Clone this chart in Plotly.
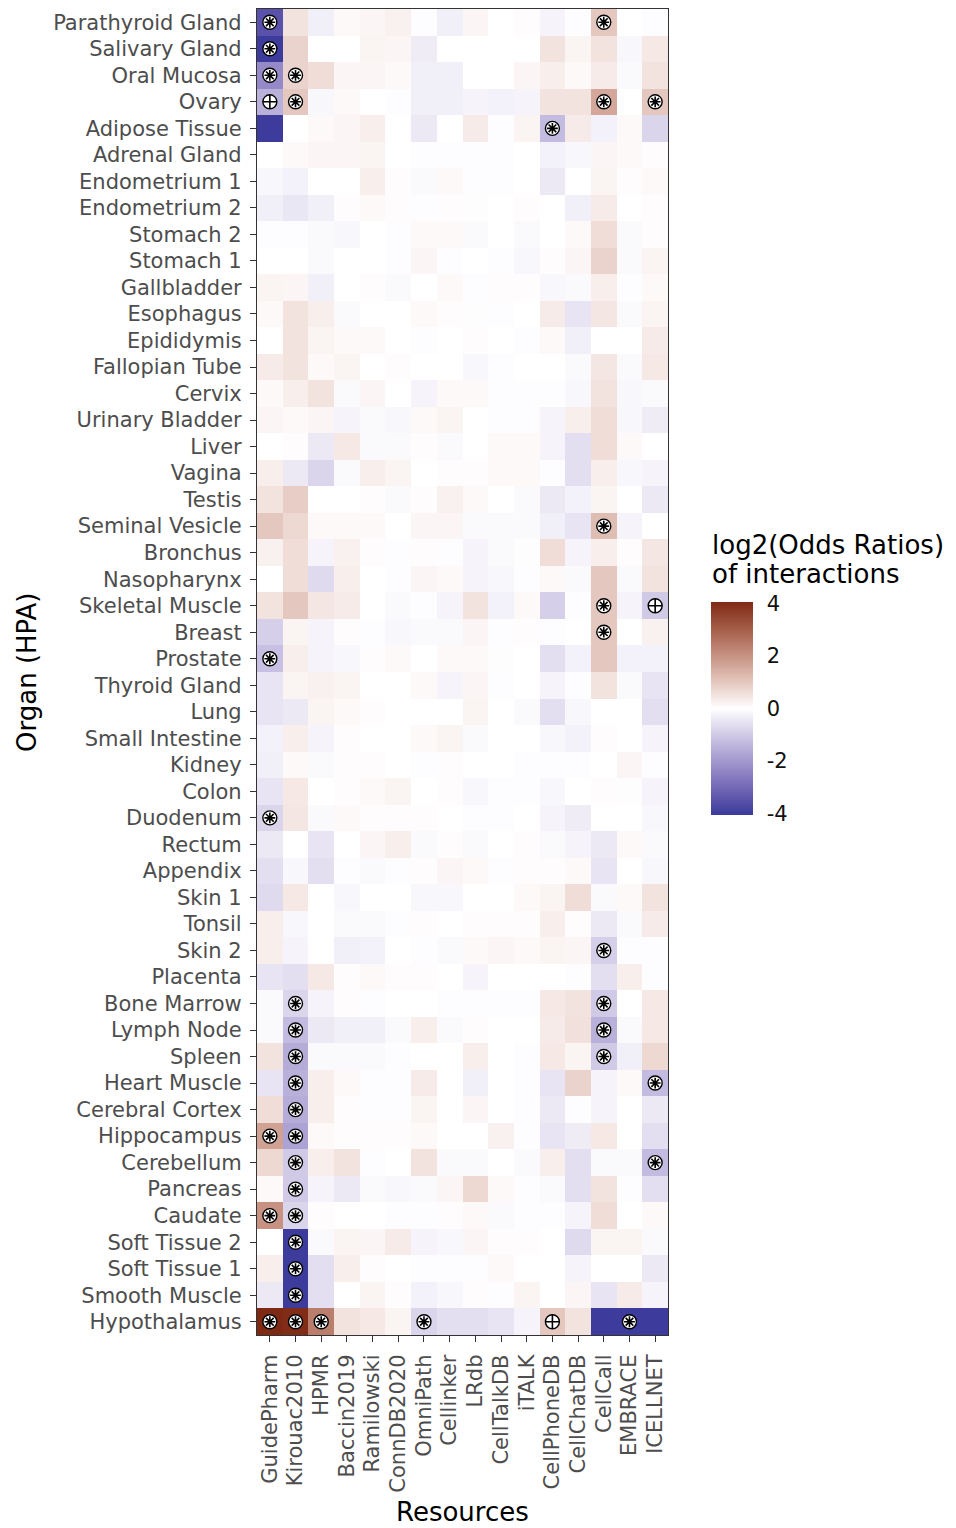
import plotly.graph_objects as go

resources = ["GuidePharm", "Kirouac2010", "HPMR", "Baccin2019", "Ramilowski", "ConnDB2020",
             "OmniPath", "Cellinker", "LRdb", "CellTalkDB", "iTALK", "CellPhoneDB",
             "CellChatDB", "CellCall", "EMBRACE", "ICELLNET"]

organs = ["Parathyroid Gland", "Salivary Gland", "Oral Mucosa", "Ovary", "Adipose Tissue",
          "Adrenal Gland", "Endometrium 1", "Endometrium 2", "Stomach 2", "Stomach 1",
          "Gallbladder", "Esophagus", "Epididymis", "Fallopian Tube", "Cervix",
          "Urinary Bladder", "Liver", "Vagina", "Testis", "Seminal Vesicle", "Bronchus",
          "Nasopharynx", "Skeletal Muscle", "Breast", "Prostate", "Thyroid Gland", "Lung",
          "Small Intestine", "Kidney", "Colon", "Duodenum", "Rectum", "Appendix", "Skin 1",
          "Tonsil", "Skin 2", "Placenta", "Bone Marrow", "Lymph Node", "Spleen",
          "Heart Muscle", "Cerebral Cortex", "Hippocampus", "Cerebellum", "Pancreas",
          "Caudate", "Soft Tissue 2", "Soft Tissue 1", "Smooth Muscle", "Hypothalamus"]

log2_odds = [
    [-3.5, 0.5, -0.3, 0.1, 0.15, 0.25, -0.05, -0.3, 0.15, 0.0, 0.05, -0.2, -0.05, 1.0, 0.0, -0.05],
    [-4.0, 0.8, 0.0, 0.0, 0.2, 0.15, -0.35, 0.0, 0.0, 0.0, 0.0, 0.5, 0.2, 0.5, -0.15, 0.4],
    [-2.3, 0.8, 0.6, 0.15, 0.15, 0.1, -0.3, -0.3, 0.0, 0.0, 0.15, 0.3, 0.1, 0.35, -0.1, 0.5],
    [-1.5, 1.0, -0.15, 0.1, 0.0, -0.05, -0.3, -0.3, -0.2, -0.25, -0.2, 0.5, 0.5, 1.6, 0.0, 1.0],
    [-4.0, 0.0, 0.1, 0.15, 0.3, 0.0, -0.4, 0.0, 0.35, -0.05, 0.2, -1.3, 0.35, -0.25, 0.1, -0.8],
    [0.0, 0.1, 0.15, 0.15, 0.2, 0.0, -0.05, -0.05, -0.05, -0.05, 0.0, -0.25, -0.15, 0.15, 0.1, 0.05],
    [-0.15, -0.25, 0.0, 0.0, 0.3, 0.05, -0.1, 0.1, -0.05, -0.05, 0.0, -0.4, 0.0, 0.2, 0.05, 0.1],
    [-0.3, -0.45, -0.3, 0.05, 0.1, 0.05, -0.05, 0.05, -0.03, 0.0, 0.05, 0.0, -0.3, 0.35, 0.0, 0.05],
    [-0.05, -0.05, -0.1, -0.15, 0.0, -0.05, 0.1, 0.1, -0.1, 0.0, -0.1, 0.0, 0.1, 0.6, -0.1, 0.05],
    [0.0, 0.0, -0.1, 0.0, 0.0, -0.05, 0.15, -0.05, 0.0, -0.05, -0.15, 0.05, 0.15, 0.8, -0.1, 0.2],
    [0.2, 0.15, -0.3, 0.0, 0.05, -0.1, 0.0, 0.1, -0.05, 0.05, 0.05, -0.15, -0.1, 0.3, -0.05, 0.1],
    [0.1, 0.5, 0.3, -0.1, 0.0, 0.0, 0.1, 0.05, 0.03, -0.05, 0.0, 0.35, -0.5, 0.45, -0.1, 0.2],
    [0.0, 0.5, 0.2, 0.1, 0.1, 0.0, -0.05, 0.0, 0.05, 0.0, -0.05, 0.1, -0.3, 0.0, 0.0, 0.35],
    [0.35, 0.5, 0.1, 0.2, 0.0, 0.05, 0.0, 0.0, -0.15, -0.05, 0.0, 0.0, -0.1, 0.45, -0.1, 0.4],
    [0.1, 0.3, 0.5, -0.1, 0.15, 0.0, -0.2, 0.1, 0.1, -0.05, -0.05, -0.05, -0.15, 0.5, -0.15, -0.1],
    [0.15, 0.1, 0.15, -0.2, -0.1, -0.15, 0.1, 0.2, 0.0, -0.05, -0.05, -0.2, 0.3, 0.6, -0.15, -0.35],
    [0.0, 0.05, -0.4, 0.4, -0.1, -0.1, 0.05, -0.1, 0.0, 0.1, 0.1, -0.2, -0.6, 0.6, 0.1, 0.0],
    [0.3, -0.4, -0.8, -0.1, 0.3, 0.2, 0.0, 0.05, 0.05, 0.1, 0.1, -0.05, -0.6, 0.3, -0.15, -0.2],
    [0.5, 0.9, 0.0, 0.0, 0.05, -0.1, 0.05, 0.25, 0.1, 0.0, -0.1, -0.4, -0.25, 0.2, 0.0, -0.4],
    [1.0, 0.7, 0.1, 0.1, 0.1, 0.0, 0.15, 0.15, -0.1, -0.1, -0.1, -0.3, -0.5, 1.2, -0.2, 0.0],
    [0.25, 0.6, -0.2, 0.25, 0.05, -0.05, 0.05, -0.05, -0.2, -0.1, 0.03, 0.6, -0.2, 0.3, 0.05, 0.45],
    [0.0, 0.6, -0.7, 0.3, 0.0, -0.05, 0.15, 0.1, -0.2, -0.15, -0.05, 0.1, -0.1, 1.0, -0.1, 0.5],
    [0.5, 1.0, 0.45, 0.35, 0.0, -0.1, -0.05, -0.2, 0.5, -0.25, 0.1, -0.9, -0.05, 1.0, -0.2, -1.0],
    [-0.9, 0.2, -0.2, 0.05, -0.05, -0.15, -0.1, -0.1, 0.15, -0.05, 0.05, -0.05, 0.0, 1.0, 0.0, 0.25],
    [-1.2, 0.3, -0.2, -0.15, 0.05, 0.1, 0.0, 0.1, 0.1, 0.03, 0.0, -0.6, -0.25, 1.0, -0.25, -0.25],
    [-0.5, 0.2, 0.25, 0.2, 0.0, 0.0, 0.1, -0.2, 0.15, -0.05, 0.0, -0.2, -0.05, 0.5, -0.1, -0.5],
    [-0.5, -0.4, 0.2, 0.1, 0.05, 0.0, 0.0, 0.0, 0.2, 0.0, -0.1, -0.6, -0.15, 0.0, 0.0, -0.6],
    [-0.25, 0.3, -0.2, 0.05, 0.0, 0.0, 0.1, 0.2, -0.1, 0.0, 0.0, -0.15, -0.25, 0.05, 0.0, -0.2],
    [-0.3, 0.1, -0.1, 0.05, 0.05, 0.0, -0.05, 0.05, 0.0, 0.0, -0.05, -0.05, -0.05, 0.0, 0.15, -0.05],
    [-0.5, 0.4, 0.0, 0.05, 0.1, 0.2, 0.0, 0.05, -0.15, -0.05, -0.05, -0.15, 0.0, 0.05, 0.03, -0.2],
    [-0.8, 0.45, -0.1, 0.1, 0.05, 0.05, 0.05, 0.0, -0.05, -0.05, 0.0, -0.2, -0.35, 0.0, 0.0, -0.15],
    [-0.4, 0.0, -0.5, 0.0, 0.15, 0.3, -0.1, 0.05, -0.1, 0.0, 0.05, -0.1, -0.2, -0.4, 0.1, -0.1],
    [-0.6, -0.15, -0.6, -0.05, -0.1, -0.05, 0.05, 0.15, 0.1, -0.05, 0.05, 0.05, 0.1, -0.5, 0.0, -0.15],
    [-0.7, 0.4, 0.0, -0.15, 0.0, 0.0, -0.15, -0.15, 0.0, 0.0, 0.1, 0.2, 0.6, -0.1, 0.1, 0.5],
    [0.3, -0.15, 0.0, -0.1, -0.1, -0.05, 0.05, 0.0, 0.05, 0.05, 0.05, 0.3, 0.05, -0.4, -0.1, 0.35],
    [0.3, -0.2, 0.0, -0.3, -0.25, 0.0, -0.05, -0.1, 0.1, 0.15, 0.1, 0.2, 0.15, -0.9, -0.05, -0.05],
    [-0.5, -0.6, 0.4, 0.05, 0.1, 0.05, 0.05, 0.0, -0.2, 0.0, 0.0, 0.0, -0.05, -0.6, 0.3, -0.05],
    [-0.1, -0.8, -0.2, 0.05, -0.05, 0.0, 0.0, -0.05, -0.05, -0.05, -0.05, 0.4, 0.5, -1.0, 0.0, 0.4],
    [-0.1, -1.3, -0.4, -0.3, -0.3, -0.1, 0.3, -0.1, 0.05, 0.0, 0.0, 0.35, 0.55, -1.5, -0.1, 0.4],
    [0.5, -1.6, -0.1, -0.1, -0.1, -0.05, 0.0, 0.0, 0.3, 0.0, -0.05, 0.4, 0.2, -1.0, -0.3, 0.7],
    [-0.5, -1.5, 0.3, 0.1, -0.05, -0.05, 0.35, 0.0, -0.3, 0.0, -0.05, -0.5, 0.8, -0.2, 0.1, -1.3],
    [0.6, -1.6, 0.3, 0.05, -0.05, -0.05, 0.2, 0.0, 0.15, 0.0, -0.05, -0.4, -0.05, -0.2, 0.0, -0.4],
    [1.7, -1.8, 0.1, 0.05, 0.05, 0.05, 0.1, 0.0, 0.0, 0.25, -0.05, -0.5, -0.35, 0.4, 0.0, -0.6],
    [0.7, -1.0, 0.3, 0.5, -0.05, 0.0, 0.5, -0.1, -0.1, 0.0, -0.1, 0.3, -0.6, -0.1, -0.1, -1.3],
    [0.1, -1.0, -0.2, -0.4, -0.1, -0.15, -0.1, 0.15, 0.7, 0.1, -0.05, -0.1, -0.6, 0.5, -0.05, -0.6],
    [2.0, -0.8, 0.05, 0.0, 0.0, -0.05, -0.05, 0.05, 0.1, -0.1, -0.05, -0.05, -0.2, 0.6, 0.0, 0.1],
    [0.0, -4.0, -0.1, 0.2, 0.15, 0.35, -0.2, -0.15, 0.15, 0.05, 0.05, 0.0, -0.7, 0.2, 0.2, -0.1],
    [0.3, -4.0, -0.6, 0.3, 0.05, 0.0, -0.05, -0.05, -0.05, 0.1, 0.0, 0.0, -0.2, 0.0, 0.0, -0.4],
    [-0.4, -4.0, -0.6, 0.0, 0.2, 0.05, -0.25, -0.15, 0.05, -0.05, 0.2, 0.0, 0.15, -0.5, 0.35, -0.2],
    [4.2, 4.0, 2.4, 0.5, 0.4, 0.2, -0.8, -0.6, -0.6, -0.5, -0.2, 1.0, 0.5, -4.0, -4.0, -4.0],
]

star_cells = [
    ("Parathyroid Gland", "GuidePharm"), ("Parathyroid Gland", "CellCall"),
    ("Salivary Gland", "GuidePharm"),
    ("Oral Mucosa", "GuidePharm"), ("Oral Mucosa", "Kirouac2010"),
    ("Ovary", "Kirouac2010"), ("Ovary", "CellCall"), ("Ovary", "ICELLNET"),
    ("Adipose Tissue", "CellPhoneDB"),
    ("Seminal Vesicle", "CellCall"),
    ("Skeletal Muscle", "CellCall"),
    ("Breast", "CellCall"),
    ("Prostate", "GuidePharm"),
    ("Duodenum", "GuidePharm"),
    ("Skin 2", "CellCall"),
    ("Bone Marrow", "Kirouac2010"), ("Bone Marrow", "CellCall"),
    ("Lymph Node", "Kirouac2010"), ("Lymph Node", "CellCall"),
    ("Spleen", "Kirouac2010"), ("Spleen", "CellCall"),
    ("Heart Muscle", "Kirouac2010"), ("Heart Muscle", "ICELLNET"),
    ("Cerebral Cortex", "Kirouac2010"),
    ("Hippocampus", "GuidePharm"), ("Hippocampus", "Kirouac2010"),
    ("Cerebellum", "Kirouac2010"), ("Cerebellum", "ICELLNET"),
    ("Pancreas", "Kirouac2010"),
    ("Caudate", "GuidePharm"), ("Caudate", "Kirouac2010"),
    ("Soft Tissue 2", "Kirouac2010"),
    ("Soft Tissue 1", "Kirouac2010"),
    ("Smooth Muscle", "Kirouac2010"),
    ("Hypothalamus", "GuidePharm"), ("Hypothalamus", "Kirouac2010"),
    ("Hypothalamus", "HPMR"), ("Hypothalamus", "OmniPath"), ("Hypothalamus", "EMBRACE"),
]

plus_cells = [
    ("Ovary", "GuidePharm"),
    ("Skeletal Muscle", "ICELLNET"),
    ("Hypothalamus", "CellPhoneDB"),
]

colorbar_ticks = [-4, -2, 0, 2, 4]
z_limit = 4.05


# ---- colour scale: white midpoint, interpolated in CIELAB like ggplot2 ----
def hex_to_rgb(h):
    h = h.lstrip("#")
    return [int(h[i:i + 2], 16) / 255 for i in (0, 2, 4)]


def srgb_to_lin(c):
    return c / 12.92 if c <= 0.04045 else ((c + 0.055) / 1.055) ** 2.4


def lin_to_srgb(c):
    c = max(0.0, min(1.0, c))
    return 12.92 * c if c <= 0.0031308 else 1.055 * c ** (1 / 2.4) - 0.055


def rgb_to_lab(rgb):
    r, g, b = [srgb_to_lin(c) for c in rgb]
    x = (0.4124 * r + 0.3576 * g + 0.1805 * b) / 0.95047
    y = (0.2126 * r + 0.7152 * g + 0.0722 * b)
    z = (0.0193 * r + 0.1192 * g + 0.9505 * b) / 1.08883

    def f(t):
        return t ** (1 / 3) if t > 0.008856 else 7.787 * t + 16 / 116
    fx, fy, fz = f(x), f(y), f(z)
    return [116 * fy - 16, 500 * (fx - fy), 200 * (fy - fz)]


def lab_to_rgb(lab):
    L, a, b = lab
    fy = (L + 16) / 116
    fx = fy + a / 500
    fz = fy - b / 200

    def finv(t):
        return t ** 3 if t ** 3 > 0.008856 else (t - 16 / 116) / 7.787
    x, y, z = finv(fx) * 0.95047, finv(fy), finv(fz) * 1.08883
    r = 3.2406 * x - 1.5372 * y - 0.4986 * z
    g = -0.9689 * x + 1.8758 * y + 0.0415 * z
    bb = 0.0557 * x - 0.2040 * y + 1.0570 * z
    return "rgb(%d,%d,%d)" % tuple(round(lin_to_srgb(c) * 255) for c in (r, g, bb))


low_lab = rgb_to_lab(hex_to_rgb("#3a3a9c"))
mid_lab = rgb_to_lab(hex_to_rgb("#ffffff"))
high_lab = rgb_to_lab(hex_to_rgb("#7e2914"))
colorscale = []
n = 20
for i in range(n + 1):
    t = i / n
    if t <= 0.5:
        s = t / 0.5
        lab = [low_lab[k] + (mid_lab[k] - low_lab[k]) * s for k in range(3)]
    else:
        s = (t - 0.5) / 0.5
        lab = [mid_lab[k] + (high_lab[k] - mid_lab[k]) * s for k in range(3)]
    colorscale.append([t, lab_to_rgb(lab)])

FONT = "DejaVu Sans"

# pixel geometry of the plot panel and colour bar (layout only)
PL, PR, PT, PB = 257, 668, 9, 1335
PW, PH = PR - PL, PB - PT
CB_LEFT, CB_W, CB_TOP, CB_BOT = 711, 42, 602, 815
CB_MID = (CB_TOP + CB_BOT) / 2


def px_x(x):
    return (x - PL) / PW


def px_y(y):
    return (PB - y) / PH


fig = go.Figure()
fig.add_trace(go.Heatmap(
    z=log2_odds, x=resources, y=organs,
    colorscale=colorscale, zmin=-z_limit, zmax=z_limit,
    xgap=0, ygap=0,
    colorbar=dict(
        x=px_x(CB_LEFT), xanchor="left",
        y=px_y(CB_MID), yanchor="middle",
        len=CB_BOT - CB_TOP, lenmode="pixels", thickness=CB_W, thicknessmode="pixels",
        outlinewidth=0, xpad=0, ypad=0,
        tickvals=colorbar_ticks, ticktext=[str(v) for v in colorbar_ticks],
        ticks="outside", ticklen=10, tickcolor="rgba(0,0,0,0)",
        tickfont=dict(family=FONT, size=21, color="#111111"),
    ),
    hovertemplate="%{y} / %{x}: %{z}<extra></extra>",
))

for cells, sym, sz in ((star_cells, "asterisk-open", 9), (plus_cells, "cross-thin-open", 10)):
    ys = [c[0] for c in cells]
    xs = [c[1] for c in cells]
    fig.add_trace(go.Scatter(
        x=xs, y=ys, mode="markers", showlegend=False, hoverinfo="skip",
        marker=dict(symbol="circle", size=14, color="white",
                    line=dict(color="black", width=1.4)),
    ))
    fig.add_trace(go.Scatter(
        x=xs, y=ys, mode="markers", showlegend=False, hoverinfo="skip",
        marker=dict(symbol=sym, size=sz, color="black",
                    line=dict(color="black", width=1.6)),
    ))

fig.update_xaxes(
    categoryorder="array", categoryarray=resources,
    tickmode="array", tickvals=resources, ticktext=resources,
    tickangle=-90, ticks="outside", ticklen=6, tickwidth=1.2, tickcolor="#333333",
    tickfont=dict(family=FONT, size=21, color="#4d4d4d"),
    showline=True, linecolor="#333333", linewidth=1.2, mirror=True,
    showgrid=False, zeroline=False, range=[-0.5, len(resources) - 0.5],
    autorange=False, ticklabelstandoff=4,
)
fig.update_yaxes(
    categoryorder="array", categoryarray=organs,
    tickmode="array", tickvals=organs, ticktext=organs,
    ticks="outside", ticklen=6, tickwidth=1.2, tickcolor="#333333",
    tickfont=dict(family=FONT, size=21, color="#4d4d4d"),
    showline=True, linecolor="#333333", linewidth=1.2, mirror=True,
    showgrid=False, zeroline=False, range=[len(organs) - 0.5, -0.5],
    autorange=False, ticklabelstandoff=4,
)

# white tick marks drawn across the colour bar edges (ggplot style)
shapes = []
for v in colorbar_ticks:
    yy = px_y(CB_MID - v / z_limit * (CB_BOT - CB_TOP) / 2)
    for x0, x1 in ((CB_LEFT, CB_LEFT + 8), (CB_LEFT + CB_W - 8, CB_LEFT + CB_W)):
        shapes.append(dict(type="line", xref="paper", yref="paper",
                           x0=px_x(x0), x1=px_x(x1), y0=yy, y1=yy,
                           line=dict(color="rgba(255,255,255,0.9)", width=1.2)))

annotations = [
    dict(text="Resources", x=0.5, y=px_y(1512), xref="paper", yref="paper",
         xanchor="center", yanchor="middle", showarrow=False,
         font=dict(family=FONT, size=26, color="black")),
    dict(text="Organ (HPA)", x=px_x(27), y=px_y(672),
         xref="paper", yref="paper", textangle=-90,
         xanchor="center", yanchor="middle", showarrow=False,
         font=dict(family=FONT, size=26, color="black")),
    dict(text="log2(Odds Ratios)", x=px_x(710), y=px_y(545),
         xref="paper", yref="paper", xanchor="left", yanchor="middle", showarrow=False,
         font=dict(family=FONT, size=26, color="black")),
    dict(text="of interactions", x=px_x(710), y=px_y(574),
         xref="paper", yref="paper", xanchor="left", yanchor="middle", showarrow=False,
         font=dict(family=FONT, size=26, color="black")),
]

fig.update_layout(
    width=956, height=1528,
    margin=dict(l=PL, r=956 - PR, t=PT, b=1528 - PB, autoexpand=False),
    paper_bgcolor="white", plot_bgcolor="white",
    font=dict(family=FONT),
    annotations=annotations,
    shapes=shapes,
    showlegend=False,
)

fig.write_html("out.html")
